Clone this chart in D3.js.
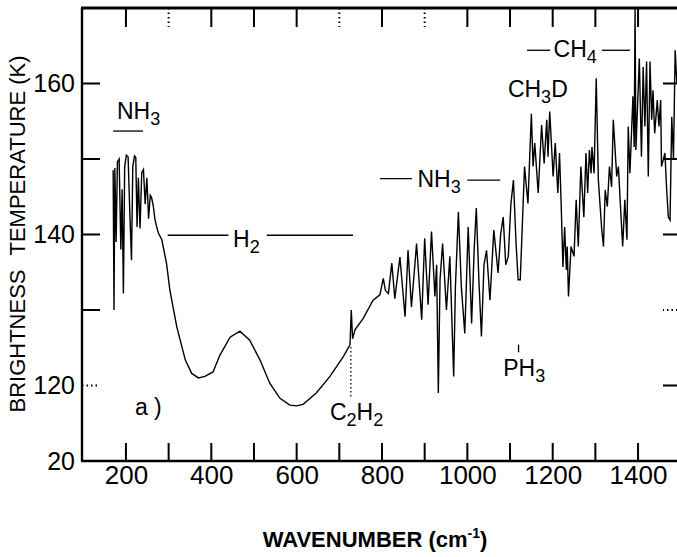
<!DOCTYPE html>
<html>
<head>
<meta charset="utf-8">
<script src="https://cdn.jsdelivr.net/npm/d3@7"></script>
<style>
  body { margin: 0; background: #fff; }
  svg { font-family: "Liberation Sans", Arial, sans-serif; }
  .spectrum { fill: none; stroke: #000; stroke-width: 1.4; }
  .axis .domain { display: none; }
  .axis .tick line { display: none; }
  .tickbar { fill: #000; stroke: none; }
  .tickdots { stroke: #000; stroke-width: 2; stroke-dasharray: 1.5,3; }
  .note { font-size: 23px; fill: #000; }
  .note-line { stroke: #000; stroke-width: 1.3; }
  .title { font-size: 22px; fill: #000; }
</style>
</head>
<body>
<script>
// spectrum: wavenumber (cm-1) and brightness temperature (K)
var wavenumber = [
  170, 172, 174, 177, 180, 184, 188, 191, 194, 197, 201, 205, 209, 213, 216, 220, 223, 226, 229, 233,
  237, 241, 245, 249, 253, 257, 260, 264, 268, 272, 276, 284, 295, 303, 319, 339, 354, 370, 385, 404,
  420, 444, 467, 490, 514, 537, 561, 584, 600, 615, 646, 678, 709, 725, 728, 731, 737, 756, 779, 795,
  803, 808, 815, 823, 830, 842, 854, 861, 869, 881, 893, 900, 908, 916, 924, 928, 932, 936, 942, 951,
  959, 968, 972, 979, 986, 994, 1002, 1010, 1016, 1021, 1027, 1033, 1039, 1045, 1053, 1062, 1072, 1078, 1084, 1090,
  1096, 1102, 1108, 1114, 1119, 1124, 1134, 1142, 1150, 1154, 1158, 1166, 1174, 1180, 1186, 1189, 1193, 1201, 1206, 1212,
  1216, 1220, 1224, 1228, 1232, 1234, 1237, 1243, 1250, 1255, 1260, 1266, 1273, 1278, 1282, 1286, 1290, 1292, 1297, 1302,
  1307, 1315, 1319, 1323, 1328, 1333, 1338, 1342, 1350, 1354, 1358, 1364, 1369, 1374, 1377, 1381, 1388, 1391, 1393, 1395,
  1403, 1408, 1412, 1416, 1420, 1424, 1428, 1432, 1435, 1439, 1445, 1449, 1453, 1455, 1463, 1467, 1471, 1475, 1479, 1483,
  1487, 1491
];
var temperature = [
  148.5, 130.0, 148.8, 139.0, 149.6, 150.0, 138.0, 146.0, 132.2, 149.0, 150.5, 150.3, 143.0, 136.6, 149.0, 150.4, 150.2, 141.0, 147.5, 140.8,
  148.2, 148.6, 144.0, 147.5, 142.1, 145.2, 144.9, 143.8, 142.0, 141.0, 140.2, 139.3, 136.2, 132.6, 127.8, 123.4, 121.6, 121.0, 121.2, 121.8,
  124.0, 126.4, 127.2, 126.0, 123.4, 120.3, 118.3, 117.4, 117.3, 117.5, 119.0, 121.2, 123.8, 125.4, 130.0, 126.2, 127.4, 128.9, 131.3, 132.0,
  134.2, 132.6, 132.2, 136.2, 131.5, 137.0, 129.1, 137.9, 130.4, 138.8, 128.7, 139.5, 130.7, 140.4, 131.8, 136.0, 119.0, 134.0, 138.8, 130.0,
  137.1, 121.2, 133.0, 143.0, 133.0, 126.9, 141.0, 128.2, 138.0, 143.5, 134.0, 126.5, 136.0, 137.9, 131.3, 140.6, 134.9, 140.0, 142.3, 136.0,
  137.1, 144.0, 147.2, 139.0, 134.0, 134.0, 149.0, 144.1, 156.0, 149.0, 152.1, 145.5, 154.5, 149.4, 155.2, 150.3, 156.3, 147.7, 152.1, 145.5,
  150.8, 143.7, 135.7, 141.0, 135.3, 138.4, 131.8, 138.4, 137.1, 144.6, 138.4, 149.0, 142.3, 150.8, 145.5, 151.2, 148.1, 151.6, 148.1, 160.7,
  147.2, 140.6, 138.4, 145.9, 143.7, 149.0, 146.3, 155.2, 147.7, 149.0, 144.6, 138.4, 144.6, 139.3, 154.3, 148.1, 158.3, 151.6, 170.0, 151.2,
  163.3, 150.3, 162.2, 154.3, 162.9, 147.7, 162.9, 155.2, 159.1, 153.4, 157.8, 154.3, 157.8, 149.0, 150.8, 146.0, 142.3, 141.9, 155.6, 150.0,
  164.4, 160.0
];

var xTicks = [200, 300, 400, 500, 600, 700, 800, 900, 1000, 1100, 1200, 1300, 1400];
var xLabelled = [200, 400, 600, 800, 1000, 1200, 1400];
var yTicks = [110, 120, 130, 140, 150, 160];
var yTickLabels = ["20", "120", "", "140", "", "160"];
var rightTicks = [120, 130, 140, 150, 160];

var xTitle = "WAVENUMBER (cm";
var xTitleSup = "-1";
var yTitleA = "BRIGHTNESS";
var yTitleB = "TEMPERATURE (K)";

// molecule labels, placed in data units (wavenumber, K)
var notes = [
  {text: "NH", sub: "3", x: 179, y: 155.3},
  {text: "H", sub: "2", x: 451, y: 138.3},
  {text: "NH", sub: "3", x: 883, y: 146.3},
  {text: "CH", sub: "3", after: "D", x: 1095, y: 158.2},
  {text: "CH", sub: "4", x: 1202, y: 163.5},
  {text: "PH", sub: "3", x: 1084, y: 121.3},
  {text: "C", sub: "2", after: "H", sub2: "2", x: 678, y: 115.4},
  {text: "a )", x: 221, y: 116.1}
];
var noteLines = [
  {x1: 170, x2: 240, y: 153.7},
  {x1: 298, x2: 440, y: 139.9},
  {x1: 530, x2: 732, y: 139.9},
  {x1: 795, x2: 870, y: 147.4},
  {x1: 1000, x2: 1077, y: 147.2},
  {x1: 1140, x2: 1194, y: 164.4},
  {x1: 1315, x2: 1381, y: 164.4}
];
var markers = [
  {x: 727, y1: 125.1, y2: 118.5, dotted: true},
  {x: 1120, y1: 125.4, y2: 124.4, dotted: false}
];

const WIDTH = 677;
const HEIGHT = 557;
const LEFT = 82;
const TOP = 8;
const INNER_WIDTH = 600;
const INNER_HEIGHT = 453;
const TICK = 18;
const TICK_W = 2;

var xScale = d3.scaleLinear()
  .domain([97, 1503])
  .range([0, INNER_WIDTH]);

var yScale = d3.scaleLinear()
  .domain([110, 170])
  .range([INNER_HEIGHT, 0]);

var translate = function(x, y) {
  return "translate(" + x + "," + y + ")";
};

var labelFont = function(g, size) {
  g.selectAll('.tick text')
    .attr('fill', '#000')
    .attr('font-family', '"Liberation Sans", Arial, sans-serif')
    .attr('font-size', size);
};

// solid tick marks are thin filled bars, broken ones dashed lines
var drawTickMarks = function(g, values, vertical, from, to, dotted) {
  var lo = Math.min(from, to);
  var len = Math.abs(to - from);
  var pos = function(d) { return vertical ? xScale(d) : yScale(d); };

  g.selectAll(null)
    .data(values.filter(function(d) { return dotted.indexOf(d) < 0; }))
    .enter()
    .append('rect')
    .attr('class', 'tickbar')
    .attr('x', function(d) { return vertical ? pos(d) - TICK_W / 2 : lo; })
    .attr('y', function(d) { return vertical ? lo : pos(d) - TICK_W / 2; })
    .attr('width', vertical ? TICK_W : len)
    .attr('height', vertical ? len : TICK_W);

  g.selectAll(null)
    .data(dotted)
    .enter()
    .append('line')
    .attr('class', 'tickdots')
    .attr('x1', function(d) { return vertical ? pos(d) : from; })
    .attr('x2', function(d) { return vertical ? pos(d) : to; })
    .attr('y1', function(d) { return vertical ? from : pos(d); })
    .attr('y2', function(d) { return vertical ? to : pos(d); });
};

var drawAxes = function(svg) {
  var bottomAxis = d3.axisBottom(xScale)
    .tickValues(xLabelled)
    .tickSize(0)
    .tickPadding(5)
    .tickFormat(d3.format('d'));
  svg.append('g')
    .attr('class', 'axis')
    .attr('transform', translate(LEFT, TOP + INNER_HEIGHT))
    .call(bottomAxis)
    .call(labelFont, 26);

  var leftAxis = d3.axisLeft(yScale)
    .tickValues(yTicks)
    .tickSize(0)
    .tickPadding(7)
    .tickFormat(function(d, i) { return yTickLabels[i]; });
  svg.append('g')
    .attr('class', 'axis')
    .attr('transform', translate(LEFT, TOP))
    .call(leftAxis)
    .call(labelFont, 25);

  // frame
  var frame = [
    {x1: LEFT, y1: TOP, x2: LEFT, y2: TOP + INNER_HEIGHT, w: 2.4},
    {x1: LEFT - 1, y1: TOP + INNER_HEIGHT, x2: LEFT + INNER_WIDTH, y2: TOP + INNER_HEIGHT, w: 2.4},
    {x1: LEFT - 1, y1: TOP, x2: LEFT + INNER_WIDTH, y2: TOP, w: 3}
  ];
  svg.selectAll('.frame')
    .data(frame)
    .enter()
    .append('line')
    .attr('class', 'frame')
    .attr('x1', function(d) { return d.x1; })
    .attr('y1', function(d) { return d.y1; })
    .attr('x2', function(d) { return d.x2; })
    .attr('y2', function(d) { return d.y2; })
    .attr('stroke', '#000')
    .attr('stroke-width', function(d) { return d.w; });
};

var drawAllTicks = function(svg) {
  var marks = svg.append('g').attr('transform', translate(LEFT, TOP));
  drawTickMarks(marks, xTicks, true, INNER_HEIGHT, INNER_HEIGHT - TICK, []);
  drawTickMarks(marks, xTicks, true, 0, TICK + 1, [300, 700, 900]);
  drawTickMarks(marks, yTicks, false, 0, TICK, [120]);
  drawTickMarks(marks, rightTicks, false, INNER_WIDTH, INNER_WIDTH - TICK - 1, [130]);
};

var drawTitles = function(svg) {
  var xt = svg.append('text')
    .attr('class', 'title')
    .attr('x', 375)
    .attr('y', 547)
    .attr('text-anchor', 'middle')
    .attr('font-weight', 'bold')
    .attr('font-size', 21)
    .text(xTitle);
  xt.append('tspan').attr('dy', -9).attr('font-size', 14).text(xTitleSup);
  xt.append('tspan').attr('dy', 9).text(")");

  var yt = svg.append('text')
    .attr('class', 'title')
    .attr('transform', translate(25, 234) + " rotate(-90)")
    .attr('text-anchor', 'middle')
    .text(yTitleA);
  yt.append('tspan').attr('dx', 14).text(yTitleB);
};

var drawSpectrum = function(svg) {
  var data = wavenumber.map(function(w, i) { return {x: w, y: temperature[i]}; });
  var line = d3.line()
    .x(function(d) { return xScale(d.x); })
    .y(function(d) { return yScale(d.y); });

  svg.append('clipPath').attr('id', 'plot-clip')
    .append('rect')
    .attr('width', INNER_WIDTH).attr('height', INNER_HEIGHT);

  svg.append('g')
    .attr('transform', translate(LEFT, TOP))
    .attr('clip-path', 'url(#plot-clip)')
    .append('path')
    .attr('class', 'spectrum')
    .attr('d', line(data));
};

var drawNotes = function(svg) {
  var g = svg.append('g').attr('transform', translate(LEFT, TOP));

  g.selectAll('.hline')
    .data(noteLines)
    .enter()
    .append('line')
    .attr('class', 'note-line hline')
    .attr('x1', function(d) { return xScale(d.x1); })
    .attr('x2', function(d) { return xScale(d.x2); })
    .attr('y1', function(d) { return yScale(d.y); })
    .attr('y2', function(d) { return yScale(d.y); });

  g.selectAll('.vline')
    .data(markers)
    .enter()
    .append('line')
    .attr('class', 'note-line vline')
    .attr('x1', function(d) { return xScale(d.x); })
    .attr('x2', function(d) { return xScale(d.x); })
    .attr('y1', function(d) { return yScale(d.y1); })
    .attr('y2', function(d) { return yScale(d.y2); })
    .attr('stroke-dasharray', function(d) { return d.dotted ? '1.5,2.5' : null; });

  var texts = g.selectAll('.note')
    .data(notes)
    .enter()
    .append('text')
    .attr('class', 'note')
    .attr('x', function(d) { return xScale(d.x); })
    .attr('y', function(d) { return yScale(d.y); })
    .text(function(d) { return d.text; });

  texts.each(function(d) {
    var t = d3.select(this);
    if (d.sub) t.append('tspan').attr('dy', 6).attr('font-size', 18).text(d.sub);
    if (d.after) t.append('tspan').attr('dy', -6).text(d.after);
    if (d.sub2) t.append('tspan').attr('dy', 6).attr('font-size', 18).text(d.sub2);
  });
};

var renderChart = function() {
  var svg = d3.select('body')
    .append('svg')
    .attr('width', WIDTH)
    .attr('height', HEIGHT);
  drawSpectrum(svg);
  drawAxes(svg);
  drawNotes(svg);
  drawTitles(svg);
  drawAllTicks(svg);
};

window.onload = renderChart;
</script>
</body>
</html>
